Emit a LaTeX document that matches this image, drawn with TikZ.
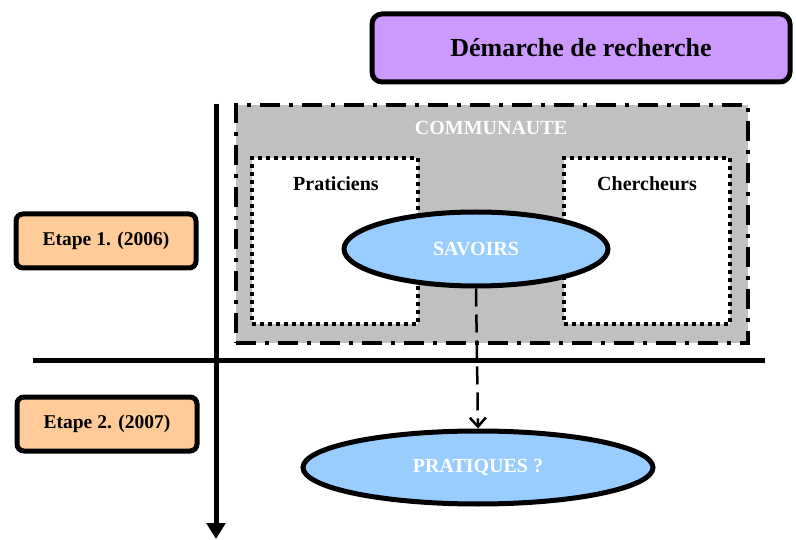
\documentclass[tikz,border=0pt]{standalone}
\usepackage{fontspec}
\setmainfont{Liberation Serif}
\usetikzlibrary{arrows.meta,shapes.geometric}
\definecolor{titlefill}{HTML}{CC99FF}
\definecolor{etapefill}{HTML}{FFCC99}
\definecolor{ovalfill}{HTML}{99CCFF}
\definecolor{commfill}{HTML}{C0C0C0}
\tikzset{
  stagebox/.style={draw=black, line width=5pt, rounded corners=7pt, fill=etapefill,
    minimum width=180pt, minimum height=54pt, font=\fontsize{19.5}{22}\selectfont\bfseries},
  titlebox/.style={draw=black, line width=5pt, rounded corners=10pt, fill=titlefill,
    minimum width=418pt, minimum height=68pt, font=\fontsize{26}{30}\selectfont\bfseries},
  groupbox/.style={draw=black, line width=4pt, fill=white,
    dash pattern=on 4pt off 4pt, minimum width=166pt, minimum height=166pt},
  oval/.style={ellipse, draw=black, line width=5pt, fill=ovalfill, text=white,
    font=\fontsize{20}{24}\selectfont\bfseries},
  lbl/.style={font=\fontsize{20}{24}\selectfont\bfseries},
  axis/.style={line width=5pt},
}
\begin{document}
\begin{tikzpicture}[x=1pt,y=-1pt]
\useasboundingbox (0,0) rectangle (796,540);
% title
\node[titlebox] (title) at (581,48) {Démarche de recherche};
% community box
\node[draw=black, fill=commfill, line width=4pt, dash pattern=on 20pt off 9pt on 4pt off 9pt,
  minimum width=512pt, minimum height=238pt] (comm) at (491.5,224) {};
\node[lbl, text=white] (commlbl) at (491,128) {COMMUNAUTE};
\node[groupbox] (prat) at (335,241.5) {};
\node[groupbox] (cher) at (647,241.5) {};
\node[lbl] (pratlbl) at (336,184) {Praticiens};
\node[lbl] (cherlbl) at (647,184) {Chercheurs};
\node[oval, minimum width=264pt, minimum height=74pt] (savoirs) at (476,249) {SAVOIRS};
% axes
\coordinate (vtop) at (216,104);
\coordinate (vbot) at (216,539);
\coordinate (hleft) at (33,360.5);
\coordinate (hright) at (765,360.5);
\draw[axis] (hleft) -- (hright);
\draw[axis, -{Triangle[length=16pt,width=20pt,angle'=60]}] (vtop) -- (vbot);
% stage boxes
\node[stagebox] (e1) at (106,241) {Etape 1. (2006)};
\node[stagebox] (e2) at (107,424) {Etape 2. (2007)};
% pratiques
\node[oval, minimum width=350pt, minimum height=73pt] (prq) at (478,467.5) {PRATIQUES ?};
% dashed arrow
\draw[line width=2.5pt, dash pattern=on 18pt off 8pt,
  -{Straight Barb[length=9pt,width=16pt,line width=2.5pt]}] (savoirs.south) -- (prq.north);
\end{tikzpicture}
\end{document}
